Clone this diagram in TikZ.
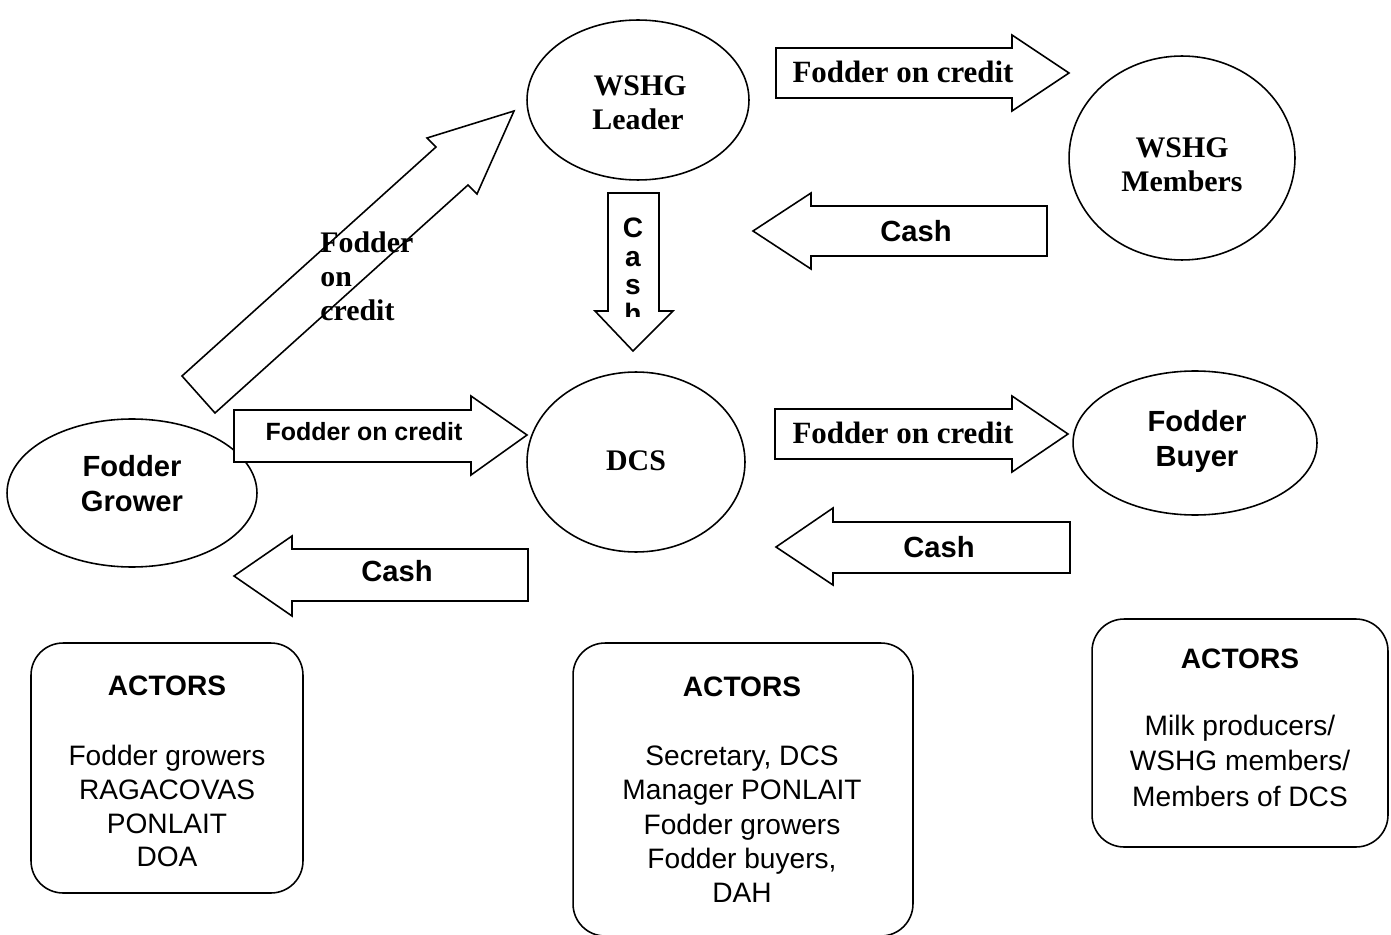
\documentclass[tikz,border=0pt]{standalone}
\usepackage{fontspec}
\setmainfont{Liberation Serif}
\newfontfamily\arialfam{Liberation Sans}
\usetikzlibrary{shapes.geometric}
\begin{document}
\begin{tikzpicture}[x=0.02cm,y=-0.02cm,
  ell/.style={draw,ellipse,line width=0.9pt,inner sep=0},
  actbox/.style={draw,rectangle,rounded corners=0.64cm,line width=0.9pt,inner sep=0},
  blk/.style={draw,fill=white,line width=0.9pt,line join=miter},
  tb/.style={font=\fontsize{17}{20}\selectfont\bfseries,inner sep=0,anchor=base},
  tba/.style={font=\fontsize{17.6}{21}\selectfont\bfseries,inner sep=0,anchor=base},
  ab/.style={font=\arialfam\fontsize{16.6}{20}\selectfont\bfseries,inner sep=0,anchor=base},
  abs/.style={font=\arialfam\fontsize{14.2}{17}\selectfont\bfseries,inner sep=0,anchor=base},
  abv/.style={font=\arialfam\fontsize{16}{19}\selectfont\bfseries,inner sep=0,anchor=base},
  ar/.style={font=\arialfam\fontsize{16}{19.5}\selectfont,inner sep=0,anchor=base},
  arb/.style={font=\arialfam\fontsize{16}{19.5}\selectfont\bfseries,inner sep=0,anchor=base}
]
\useasboundingbox (0,0) rectangle (1391,935);
\fill[white] (0,0) rectangle (1391,935);

% ellipses
\node[ell,minimum width=4.44cm,minimum height=3.2cm] (leader) at (638,100) {};
\node[ell,minimum width=4.52cm,minimum height=4.08cm] (members) at (1182,158) {};
\node[ell,minimum width=4.36cm,minimum height=3.6cm] (dcs) at (636,462) {};
\node[ell,minimum width=4.88cm,minimum height=2.88cm] (buyer) at (1195,443) {};
\node[ell,minimum width=5.0cm,minimum height=2.96cm] (grower) at (132,493) {};

\node[tb] (leaderA) at (640,96) {WSHG};
\node[tb] (leaderB) at (638,130) {Leader};
\node[tb] (membersA) at (1182,158) {WSHG};
\node[tb] (membersB) at (1182,192) {Members};
\node[tb] (dcsT) at (636,470) {DCS};
\node[ab] (buyerA) at (1197,431) {Fodder};
\node[ab] (buyerB) at (1197,466) {Buyer};
\node[ab] (growerA) at (132,476) {Fodder};
\node[ab] (growerB) at (132,511) {Grower};

% block arrows
% top: leader -> members
\draw[blk] (776,48) -- (1012,48) -- (1012,35) -- (1069,73) -- (1012,111) -- (1012,98) -- (776,98) -- cycle;
\node[tba] (f1) at (903,83) {Fodder on credit};
% top: members -> leader
\draw[blk] (753,231) -- (811,193) -- (811,206) -- (1047,206) -- (1047,256) -- (811,256) -- (811,269) -- cycle;
\node[ab] (c1) at (916,242) {Cash};
% leader -> dcs (down)
\draw[blk] (608,193) -- (659,193) -- (659,311) -- (673,311) -- (633,351) -- (595,311) -- (608,311) -- cycle;
\begin{scope}
\clip (608,193) rectangle (659,317);
\node[abv] (cv1) at (633,238) {C};
\node[abv] (cv2) at (633,267) {a};
\node[abv] (cv3) at (633,295) {s};
\node[abv] (cv4) at (633,324) {h};
\end{scope}
% grower -> leader (diagonal)
\draw[blk] (182,376) -- (436,147) -- (427,138) -- (514,111) -- (477,194) -- (468,185) -- (215,413) -- cycle;
\node[tb,anchor=base west] (d1) at (320,253) {Fodder};
\node[tb,anchor=base west] (d2) at (320,287) {on};
\node[tb,anchor=base west] (d3) at (320,321) {credit};
% grower -> dcs
\draw[blk] (234,410) -- (471,410) -- (471,396) -- (527,435) -- (471,475) -- (471,462) -- (234,462) -- cycle;
\node[abs] (f2) at (364,440) {Fodder on credit};
% dcs -> grower
\draw[blk] (234,576) -- (292,536) -- (292,549) -- (528,549) -- (528,601) -- (292,601) -- (292,616) -- cycle;
\node[ab] (c2) at (397,581) {Cash};
% dcs -> buyer
\draw[blk] (775,409) -- (1012,409) -- (1012,396) -- (1068,434) -- (1012,472) -- (1012,459) -- (775,459) -- cycle;
\node[tba] (f3) at (903,443) {Fodder on credit};
% buyer -> dcs
\draw[blk] (776,547) -- (833,508) -- (833,522) -- (1070,522) -- (1070,573) -- (833,573) -- (833,585) -- cycle;
\node[ab] (c3) at (939,557) {Cash};

% actor boxes
\node[actbox,minimum width=5.44cm,minimum height=5.0cm] (box1) at (167,768) {};
\node[arb] (box1t) at (167,695) {ACTORS};
\node[ar] (box1a) at (167,765) {Fodder growers};
\node[ar] (box1b) at (167,799) {RAGACOVAS};
\node[ar] (box1c) at (167,833) {PONLAIT};
\node[ar] (box1d) at (167,866) {DOA};

\node[actbox,minimum width=6.8cm,minimum height=5.86cm] (box2) at (743,789.5) {};
\node[arb] (box2t) at (742,696) {ACTORS};
\node[ar] (box2a) at (742,765) {Secretary, DCS};
\node[ar] (box2b) at (742,799) {Manager PONLAIT};
\node[ar] (box2c) at (742,834) {Fodder growers};
\node[ar] (box2d) at (742,868) {Fodder buyers,};
\node[ar] (box2e) at (742,902) {DAH};

\node[actbox,minimum width=5.92cm,minimum height=4.56cm] (box3) at (1240,733) {};
\node[arb] (box3t) at (1240,668) {ACTORS};
\node[ar] (box3a) at (1240,735) {Milk producers/};
\node[ar] (box3b) at (1240,770) {WSHG members/};
\node[ar] (box3c) at (1240,806) {Members of DCS};
\end{tikzpicture}
\end{document}
